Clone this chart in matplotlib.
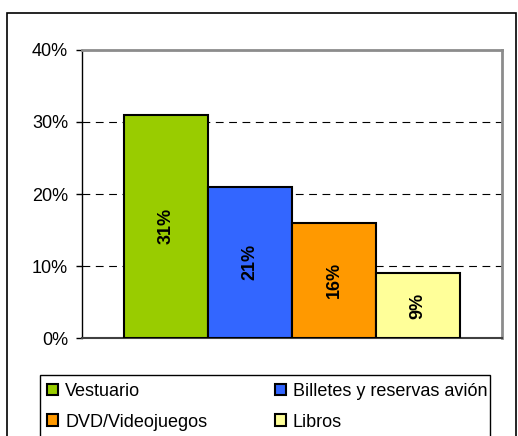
import matplotlib.pyplot as plt
from matplotlib.patches import Rectangle
from matplotlib.ticker import PercentFormatter

plt.rcParams['font.family'] = ['Liberation Sans', 'DejaVu Sans']

# datos
categorias = ['Vestuario', 'Billetes y reservas avión', 'DVD/Videojuegos', 'Libros']
valores = [31, 21, 16, 9]
colores = ['#99CC00', '#3366FF', '#FF9900', '#FFFF99']

W, H = 518, 436
fig = plt.figure(figsize=(W / 100, H / 100), dpi=100)
ax = fig.add_axes([82 / W, 1 - 338 / H, 420 / W, 288 / H])

# barras pegadas, una por categoria
ancho = 0.2
for i, (cat, v, c) in enumerate(zip(categorias, valores, colores)):
    x = 0.1 + ancho * i + ancho / 2
    ax.bar(x, v, width=ancho, color=c, edgecolor='black', linewidth=1.5,
           label=cat, zorder=3)
    ax.text(x, v / 2, f'{v}%', rotation=90, ha='center', va='center',
            fontsize=13, fontweight='bold', zorder=4)

ax.set_xlim(0, 1)
ax.set_ylim(0, 40)
ax.set_yticks([0, 10, 20, 30, 40])
ax.yaxis.set_major_formatter(PercentFormatter(decimals=0))
ax.set_xticks([])
ax.tick_params(axis='y', direction='out', length=4, width=1, pad=6, labelsize=13)
ax.yaxis.grid(True, color='black', linestyle=(0, (7, 5)), linewidth=0.8, zorder=0)

for s in ['top', 'right']:
    ax.spines[s].set_color('#8c8c8c')
    ax.spines[s].set_linewidth(2)
ax.spines['left'].set_color('black')
ax.spines['left'].set_linewidth(1)
ax.spines['bottom'].set_color('#404040')
ax.spines['bottom'].set_linewidth(1.5)

# marco exterior del grafico
fig.patches.append(Rectangle((7 / W, -0.1), 509 / W, 1.1 - 13 / H,
                             transform=fig.transFigure, fill=False,
                             edgecolor='black', linewidth=1.2))
# marco de la leyenda
fig.patches.append(Rectangle((40 / W, -0.1), 450 / W, 0.1 + 1 - 375 / H,
                             transform=fig.transFigure, fill=False,
                             edgecolor='black', linewidth=1))

handles, labels = ax.get_legend_handles_labels()
orden = [0, 2, 1, 3]
leg = fig.legend([handles[i] for i in orden], [labels[i] for i in orden],
                 ncol=2, loc='upper left', bbox_to_anchor=(47 / W, 1 - 383 / H),
                 frameon=False, fontsize=13, handlelength=0.6, handleheight=0.6,
                 handletextpad=0.4, columnspacing=3.75, labelspacing=0.75,
                 borderpad=0, borderaxespad=0)

fig.savefig('out.png', dpi=100)
